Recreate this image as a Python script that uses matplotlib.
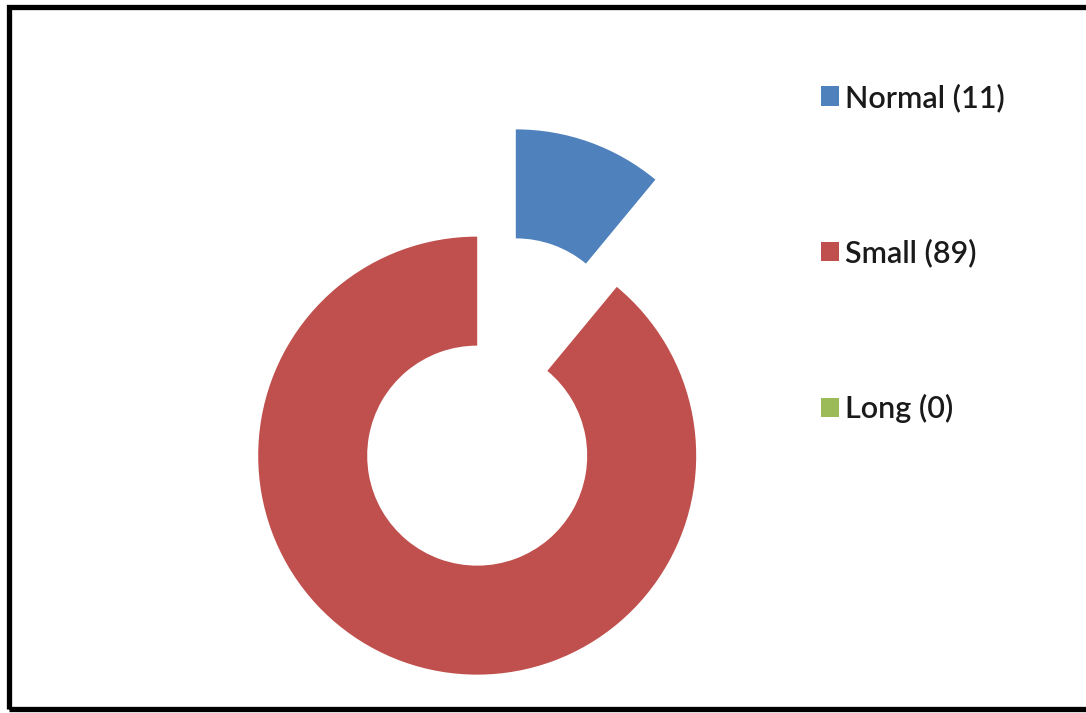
import matplotlib

matplotlib.use("Agg")
import matplotlib.pyplot as plt
from matplotlib.patches import Rectangle

categories = ["Normal", "Small", "Long"]
counts = [11, 89, 0]
colors = ["#4F81BD", "#C0504D", "#9BBB59"]

W, H = 1086, 713
fig = plt.figure(figsize=(W / 100, H / 100), dpi=100)
ax = fig.add_axes([0, 0, 1, 1])

radius = 219
# explode is in data units here (pixels), not a fraction
wedges, _ = ax.pie(
    counts,
    colors=colors,
    startangle=90,
    counterclock=False,
    radius=radius,
    center=(496.5, H - 402),
    explode=[57, 57, 57],
    wedgeprops={"width": 109, "linewidth": 0},
    frame=True,
)
ax.set_xlim(0, W)
ax.set_ylim(0, H)
ax.set_aspect("equal")
ax.axis("off")

labels = [f"{c} ({n})" for c, n in zip(categories, counts)]
leg = fig.legend(
    wedges,
    labels,
    loc="upper left",
    bbox_to_anchor=(821 / W, 1 - 83 / H),
    frameon=False,
    prop={"family": "Lato", "size": 22, "weight": "semibold"},
    handlelength=0.6,
    handleheight=0.6,
    handletextpad=0.2,
    labelspacing=4.15,
    borderpad=0,
    borderaxespad=0,
)
for t in leg.get_texts():
    t.set_color("#1a1a1a")

# outer chart frame
fig.patches.append(Rectangle((8.5 / W, 1 - 709 / H), 1.1, (709 - 6.5) / H,
                             transform=fig.transFigure, fill=False,
                             edgecolor="black", linewidth=3.8))

fig.savefig("out.png", dpi=100)
